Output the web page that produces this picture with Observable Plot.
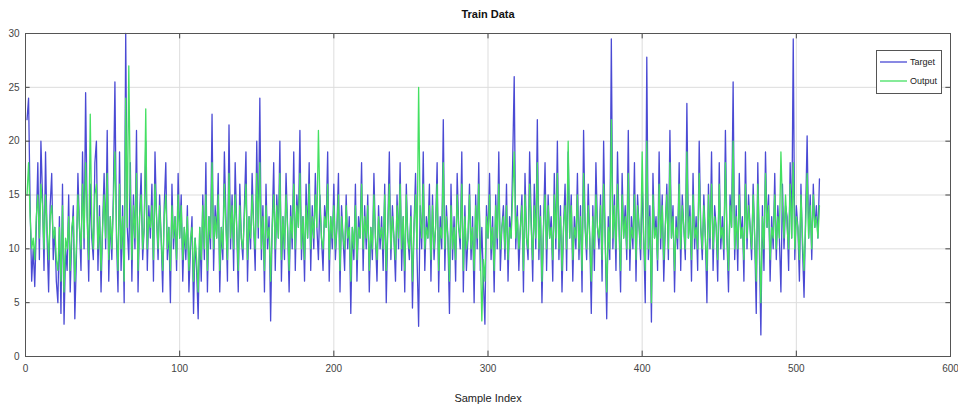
<!DOCTYPE html>
<html>
<head>
<meta charset="utf-8">
<script src="https://cdn.jsdelivr.net/npm/d3@7"></script>
<script src="https://cdn.jsdelivr.net/npm/@observablehq/plot@0.6"></script>
<style>
  body { margin: 0; background: #fff; }
  #wrap { position: relative; width: 958px; height: 406px; }
  #legend { position: absolute; left: 876px; top: 50px; width: 64px; height: 42px; border: 1px solid #555; background: #fff;
    font-family: "Liberation Sans Narrow", "Arial Narrow", "Liberation Sans", sans-serif; font-size: 9px; color: #222; }
  #legend .row { position: absolute; left: 3px; height: 12px; display: flex; align-items: center; }
  #legend svg { margin-right: 3px; }
</style>
</head>
<body>
<div id="wrap">
  <div id="chart"></div>
  <div id="legend">
    <div class="row" style="top:5px"><svg width="27" height="4"><line x1="0" x2="27" y1="2" y2="2" stroke="#4a4ad4" stroke-width="1.3"/></svg>Target</div>
    <div class="row" style="top:24px"><svg width="27" height="4"><line x1="0" x2="27" y1="2" y2="2" stroke="#44e062" stroke-width="1.3"/></svg>Output</div>
  </div>
</div>
<script>
const seriesNames = ["Target", "Output"];
const xTicks = [0, 100, 200, 300, 400, 500, 600];
const yTicks = [0, 5, 10, 15, 20, 25, 30];

const target = [
22,24,14,7,10,6.5,12,18,9,20,
15,8,19,11,6,14,17,9,12,7,
5,13,4,16,3,10,8,15,6,11,
14,3.5,9,17,12,8,19,10,24.5,13,
7,16,11,9,18,20,8,14,6,12,
17,10,21,7,13,9,15,25.5,11,6,
19,8,14,5,30,12,9,18,7,15,
10,21,6,13,17,9,12,20,8,14,
11,16,7,19,13,9,15,11,6,14,
18,9,12,5,16,10,13,8,17,11,
15,7,12,9,14,6,10,13,4,11,
8,3.5,12,7,15,9,18,6,13,10,
22.5,8,14,11,17,6,12,9,19,13,
7,21.5,10,15,8,18,12,6,16,11,
9,14,19,7,13,10,17,12,8,20,
11,24,9,14,6,16,10,13,3.3,12,
18,8,15,11,20,7,13,9,17,12,
6,14,10,19,8,15,12,21,9,13,
7,16,11,18,8,14,10,17,12,9,
15,11,8,14,12,19,7,13,10,16,
9,12,17,6,14,11,8,15,10,13,
4,12,9,16,7,13,11,18,8,14,
10,15,6,12,9,17,11,7,14,10,
13,8,16,5,12,19,9,14,11,7,
15,10,18,8,13,6,16,11,9,14,
4.5,12,17,9,2.8,14,10,19,8,13,
11,16,7,15,9,12,18,6,13,10,
22,8,14,11,4,16,9,13,7,17,
12,10,19,6,14,8,11,16,9,13,
5,15,10,18,8,12,7,3,14,11,
17,9,13,6,15,10,19,8,12,14,
9,16,7,13,11,18,26,10,14,8,
12,15,6,17,11,9,19,13,7,16,
10,22,9,14,5,12,18,8,15,11,
13,7,17,10,20,9,14,6,12,16,
8,19,11,15,7,13,10,17,9,14,
6,21,12,9,16,11,4,14,8,18,
12,10,15,7,20,11,3.5,13,9,29.5,
10,15,8,19,12,6,17,11,14,9,
21,8,13,10,18,7,15,12,9,16,
11,5,27.8,9,14,3.2,17,11,13,8,
19,10,15,7,12,16,9,21,11,14,
6,13,10,18,8,15,12,9,23.5,11,
14,7,17,10,13,8,20,12,9,15,
11,5,16,10,19,8,14,12,7,18,
10,13,9,21,11,6,15,12,25.5,9,
14,8,17,11,13,7,19,10,15,12,
9,16,11,4,18,10,2,14,8,19,
12,15,7,13,10,17,9,14,11,6,
16,10,14,13,8,18,11,29.5,9,14,
12,7,16,10,5.5,13,20.5,11,15,9,
16,12,14,11,16.5
];

const output = [
15,18,13,10,11,9,13,15,11,16,
14,10,15,12,9,13,14,11,12,9,
8,12,7,14,6,11,10,13,8,12,
13,7,10,15,12,10,16,11,18,13,
9,22.5,12,10,15,16,10,13,8,12,
15,11,17,9,13,10,14,19,12,8,
16,10,13,7,24,12,27,15,9,14,
11,17,8,13,15,10,12,23,10,13,
12,14,9,16,13,10,14,11,8,13,
15,10,12,8,14,11,13,9,15,11,
14,9,12,10,13,8,11,12,7,11,
9,6,12,9,14,10,15,8,13,11,
18,10,13,11,15,8,12,10,16,12,
9,17,11,14,10,15,12,8,14,11,
10,13,16,9,13,11,15,12,10,17,
12,18,10,13,8,14,11,12,7,12,
15,10,14,11,17,9,13,10,15,12,
8,13,11,16,10,14,12,17,10,13,
9,14,11,16,10,13,11,15,12,21,
14,11,10,13,12,16,9,13,11,14,
10,12,15,8,13,11,10,14,11,12,
7,12,10,14,9,12,11,16,10,13,
11,14,8,12,10,15,11,9,13,11,
12,10,15,8,12,16,10,13,11,9,
14,11,16,10,13,8,15,11,10,13,
7,12,15,10,25,13,11,16,10,12,
11,14,9,14,10,12,16,8,12,11,
18,10,13,11,7,14,10,12,9,15,
12,11,16,8,13,10,11,15,10,12,
8,14,11,16,10,3.3,9,7,13,11,
15,10,12,8,14,11,16,10,12,13,
10,14,9,12,11,15,19,11,13,10,
12,14,8,15,11,10,16,12,9,14,
11,18,10,13,7,12,15,10,14,11,
12,9,15,11,17,10,13,8,12,14,
10,20,11,14,9,12,11,15,10,13,
8,17,12,10,14,11,7,13,10,15,
12,11,14,9,16,11,6,12,10,22,
11,14,10,16,12,8,15,11,13,10,
17,10,12,11,15,9,14,12,10,19,
11,8,20,10,13,5,15,11,12,9,
16,11,14,9,12,15,10,18,11,13,
8,12,11,16,10,14,12,10,19,11,
13,9,15,11,12,10,17,12,10,14,
11,8,15,11,16,10,13,12,9,16,
11,12,10,18,11,8,14,12,20,10,
13,10,15,11,12,9,16,11,14,12,
10,15,11,7,16,11,5,13,10,17,
12,14,9,12,11,15,10,13,11,19,
14,11,15,12,10,16,11,18,10,13,
12,9,15,11,8,12,17,11,14,10,
15,12,13,11,14
];

const rows = [];
target.forEach((v, i) => rows.push({idx: i + 1, value: v, series: seriesNames[0]}));
output.forEach((v, i) => rows.push({idx: i + 1, value: v, series: seriesNames[1]}));

const font = '"Liberation Sans Narrow", "Arial Narrow", "Liberation Sans", sans-serif';

const chart = Plot.plot({
  width: 958,
  height: 406,
  marginLeft: 25,
  marginRight: 8,
  marginTop: 33,
  marginBottom: 50,
  style: {fontFamily: font, fontSize: "10px", color: "#444", background: "#fff"},
  x: {domain: [0, 600], ticks: xTicks, label: null},
  y: {domain: [0, 30], ticks: yTicks, label: null},
  color: {domain: seriesNames, range: ["#4a4ad4", "#44e062"]},
  marks: [
    Plot.gridX(xTicks, {stroke: "#ddd", strokeOpacity: 1}),
    Plot.gridY(yTicks, {stroke: "#ddd", strokeOpacity: 1}),
    Plot.line(rows, {x: "idx", y: "value", z: "series", stroke: "series", strokeWidth: 1.3}),
    Plot.axisX(xTicks, {tickSize: 0, tickPadding: 8, label: null}),
    Plot.axisY(yTicks, {tickSize: 0, tickPadding: 6, label: null}),
    Plot.ruleX(xTicks, {x: d => d, y1: 0, y2: 0.5, stroke: "#444"}),
    Plot.ruleX(xTicks, {x: d => d, y1: 29.5, y2: 30, stroke: "#444"}),
    Plot.ruleY(yTicks, {y: d => d, x1: 0, x2: 3, stroke: "#444"}),
    Plot.ruleY(yTicks, {y: d => d, x1: 597, x2: 600, stroke: "#444"}),
    Plot.frame({stroke: "#555"}),
    Plot.text(["Train Data"], {frameAnchor: "top", dy: -23, fontWeight: "bold", fontSize: 11, fill: "#111"}),
    Plot.text(["Sample Index"], {frameAnchor: "bottom", dy: 45, fontSize: 11, fill: "#222"})
  ]
});
document.getElementById("chart").appendChild(chart);
</script>
</body>
</html>
